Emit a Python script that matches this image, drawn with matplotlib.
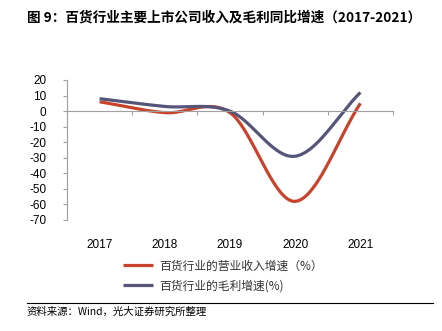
import matplotlib
matplotlib.use('Agg')
import matplotlib.pyplot as plt
import numpy as np

plt.rcParams['font.family'] = ['Noto Sans CJK SC', 'DejaVu Sans']

years = ['2017', '2018', '2019', '2020', '2021']
revenue_growth = [6, -1, -1, -58, 5]
gross_growth = [8, 3, 0, -29, 12]
yticks = list(range(20, -80, -10))

title = '图 9：百货行业主要上市公司收入及毛利同比增速（2017-2021）'
source = '资料来源：Wind，光大证券研究所整理'
label_rev = '百货行业的营业收入增速（%）'
label_gp = '百货行业的毛利增速(%)'


def smooth(xs, ys, n=40):
    # catmull-rom style curve through the points, like excel's smoothed line
    xs = np.asarray(xs, float)
    ys = np.asarray(ys, float)
    px = np.concatenate([[2 * xs[0] - xs[1]], xs, [2 * xs[-1] - xs[-2]]])
    py = np.concatenate([[2 * ys[0] - ys[1]], ys, [2 * ys[-1] - ys[-2]]])
    outx, outy = [], []
    for i in range(1, len(px) - 2):
        t = np.linspace(0, 1, n)
        for p, out in ((px, outx), (py, outy)):
            p0, p1, p2, p3 = p[i - 1], p[i], p[i + 1], p[i + 2]
            m1 = (p2 - p0) / 2
            m2 = (p3 - p1) / 2
            h00 = 2 * t**3 - 3 * t**2 + 1
            h10 = t**3 - 2 * t**2 + t
            h01 = -2 * t**3 + 3 * t**2
            h11 = t**3 - t**2
            out.extend(h00 * p1 + h10 * m1 + h01 * p2 + h11 * m2)
    return np.array(outx), np.array(outy)


fig = plt.figure(figsize=(4.42, 3.31), dpi=100)
ax = fig.add_axes([67 / 442, 1 - 220 / 331, (393 - 67) / 442, 140 / 331])

x = np.arange(len(years))
rx, ry = smooth(x, revenue_growth)
gx, gy = smooth(x, gross_growth)
red = '#C9432A'
purple = '#55557A'
ax.plot(rx, ry, color=red, lw=2.3, solid_capstyle='butt', label=label_rev)
ax.plot(gx, gy, color=purple, lw=2.3, solid_capstyle='butt', label=label_gp)

ax.set_xlim(-0.5, len(years) - 0.5)
ax.set_ylim(-70, 20)
ax.set_yticks(yticks)
ax.set_yticklabels([str(v) for v in yticks], fontsize=8.5,
                   family='Liberation Sans')
ax.tick_params(axis='y', length=3, color='#A0A0A0', pad=12)

for s in ['top', 'right']:
    ax.spines[s].set_visible(False)
ax.spines['left'].set_color('#A0A0A0')
ax.spines['bottom'].set_position(('data', 0))
ax.spines['bottom'].set_color('#A0A0A0')
ax.set_xticks(np.arange(-0.5, len(years)), minor=False)
ax.set_xticklabels([])
ax.tick_params(axis='x', length=3, direction='out', color='#A0A0A0')
for xi, yr in zip(x, years):
    ax.text(xi, -0.22, yr, transform=ax.get_xaxis_transform(), ha='center',
            va='bottom', fontsize=8.5, family='Liberation Sans')

leg = fig.legend(loc='upper left', bbox_to_anchor=(112 / 442, 1 - 249 / 331),
                 frameon=False, fontsize=8.5, handlelength=2.6,
                 labelspacing=0.55, handletextpad=0.5)
for t in leg.get_texts():
    t.set_color('#333333')

fig.text(27 / 442, 1 - 18 / 331, title, fontsize=9.8, fontweight='bold',
         va='center', ha='left')
fig.add_artist(plt.Line2D([27 / 442, 433 / 442], [1 - 303 / 331] * 2,
                          color='black', lw=0.8))
fig.text(27 / 442, 1 - 312 / 331, source, fontsize=7.5, va='center', ha='left')

fig.savefig('out.png', dpi=100)
